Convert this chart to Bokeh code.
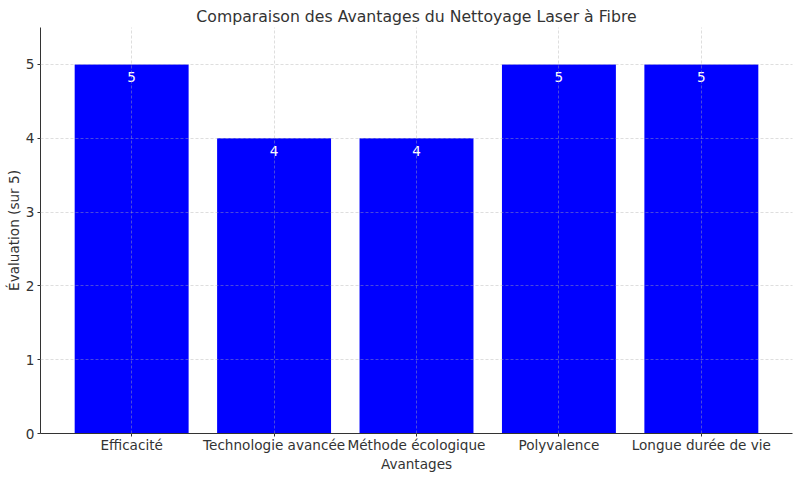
from bokeh.plotting import figure
from bokeh.models import ColumnDataSource, FixedTicker, Range1d
from bokeh.core.properties import value
from bokeh.embed import file_html
from bokeh.resources import INLINE

categories = ["Efficacité", "Technologie avancée", "Méthode écologique", "Polyvalence", "Longue durée de vie"]
scores = [5, 4, 4, 5, 5]
y_ticks = [0, 1, 2, 3, 4, 5]

xs = list(range(len(categories)))
src = ColumnDataSource(dict(x=xs, top=scores, label=[str(s) for s in scores]))

FONT = "DejaVu Sans"
p = figure(width=800, height=477, output_backend="svg", toolbar_location=None,
           x_range=Range1d(-0.64, 4.64), y_range=Range1d(0, 5.5),
           title="Comparaison des Avantages du Nettoyage Laser à Fibre")
p.frame_width = 752
p.frame_height = 406
p.min_border_left = 40
p.min_border_right = 8
p.min_border_top = 27
p.min_border_bottom = 44
p.outline_line_color = None
p.background_fill_color = "white"
p.border_fill_color = "white"

p.title.align = "center"
p.title.text_font = FONT
p.title.text_font_size = "15.7px"
p.title.text_font_style = "normal"
p.title.text_color = "#333333"
p.title.offset = 0
p.title.standoff = 4

p.vbar(x="x", top="top", width=0.8, bottom=0, source=src, fill_color="#0000ff", line_color=None)
p.text(x="x", y="top", text="label", source=src, text_color="white",
       text_align="center", text_baseline="top", y_offset=8,
       text_font=value(FONT), text_font_size="13.6px")

for ax in (p.xaxis[0], p.yaxis[0]):
    ax.axis_line_color = "#333333"
    ax.axis_line_width = 1
    ax.major_tick_line_color = "#333333"
    ax.major_tick_out = 3
    ax.major_tick_in = 0
    ax.minor_tick_line_color = None
    ax.major_label_text_font = FONT
    ax.major_label_text_font_size = "13.6px"
    ax.major_label_text_color = "#333333"
    ax.axis_label_text_font = FONT
    ax.axis_label_text_font_size = "13.6px"
    ax.axis_label_text_font_style = "normal"
    ax.axis_label_text_color = "#333333"

p.xaxis.major_label_standoff = 0
p.xaxis.axis_label_standoff = 0
p.yaxis.major_label_standoff = 3
p.yaxis.axis_label_standoff = 1

p.xaxis.ticker = FixedTicker(ticks=xs)
p.xaxis.major_label_overrides = {i: c for i, c in enumerate(categories)}
p.xaxis.axis_label = "Avantages"
p.yaxis.ticker = FixedTicker(ticks=y_ticks)
p.yaxis.axis_label = "Évaluation (sur 5)"

for g in (p.xgrid[0], p.ygrid[0]):
    g.grid_line_color = "#b0b0b0"
    g.grid_line_alpha = 0.7
    g.grid_line_dash = "3 2"
    g.grid_line_width = 0.6
    g.level = "overlay"

open("out.html", "w").write(file_html(p, INLINE))
